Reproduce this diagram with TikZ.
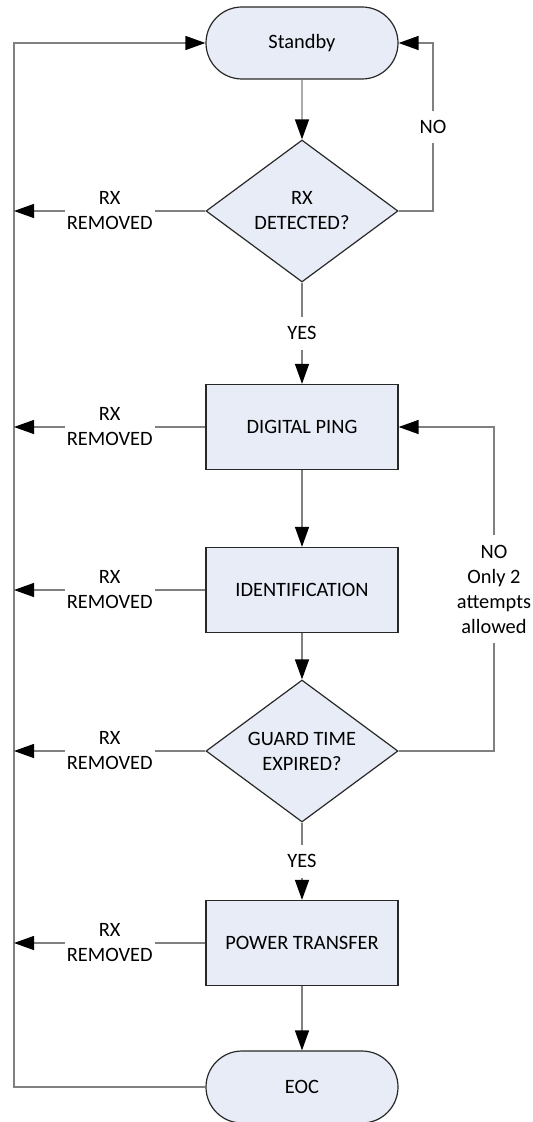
\documentclass[tikz,border=0pt]{standalone}
\usepackage{fontspec}
\setmainfont{Carlito}
\usetikzlibrary{shapes.geometric,shapes.misc,arrows.meta}

\newlength{\du}
\setlength{\du}{0.5pt}

\definecolor{shapefill}{RGB}{231,236,247}
\definecolor{shapeline}{RGB}{40,40,40}
\definecolor{connline}{RGB}{128,128,128}

\tikzset{
  boxtext/.style={font=\fontsize{10.2}{12.5}\selectfont, align=center},
  terminal/.style={boxtext, rounded rectangle, draw=shapeline, fill=shapefill, line width=0.6pt,
    minimum width=192\du, minimum height=72\du, inner sep=0pt},
  process/.style={boxtext, rectangle, draw=shapeline, fill=shapefill, line width=0.6pt,
    minimum width=192\du, minimum height=85\du, inner sep=0pt},
  decision/.style={boxtext, diamond, aspect=1.35, draw=shapeline, fill=shapefill, line width=0.6pt,
    minimum width=192\du, minimum height=142\du, inner sep=1pt},
  conn/.style={draw=connline, line width=0.65pt},
  arr/.style={-{Triangle[length=10pt,width=7pt,color=black]}},
  lbl/.style={boxtext, fill=white, inner xsep=1pt, inner ysep=4.8pt}
}

\begin{document}
\begin{tikzpicture}
\pgftransformyscale{-1.000000}
\useasboundingbox (0\du,0\du) rectangle (533\du,1122\du);
% main column
\node[terminal] (standby) at (302\du,43\du) {Standby};
\node[decision] (detect) at (302\du,211\du) {RX\\DETECTED?};
\node[process] (ping) at (302\du,427\du) {DIGITAL PING};
\node[process] (ident) at (302\du,590\du) {IDENTIFICATION};
\node[decision] (guard) at (302\du,751\du) {GUARD TIME\\EXPIRED?};
\node[process] (power) at (302\du,943\du) {POWER TRANSFER};
\node[terminal] (eoc) at (302\du,1087\du) {EOC};
% side lines
\coordinate (rail) at (14\du,0\du);
\coordinate (noline) at (433\du,0\du);
\coordinate (retry) at (494\du,0\du);

\draw[conn,arr] (standby) -- (detect);
\draw[conn,arr] (detect) -- node[lbl] (yes1) {YES} (ping);
\draw[conn,arr] (ping) -- (ident);
\draw[conn,arr] (ident) -- (guard);
\draw[conn,arr] (guard) -- node[lbl] (yes2) {YES} (power);
\draw[conn,arr] (power) -- (eoc);

\draw[conn,arr] (detect.east) -- (detect.east -| noline)
  -- node[lbl] (no1) {NO} (standby.east -| noline) -- (standby.east);
\draw[conn,arr] (guard.east) -- (guard.east -| retry)
  -- node[lbl] (no2) {NO\\Only 2\\attempts\\allowed} (ping.east -| retry) -- (ping.east);
\draw[conn,arr] (eoc.west) -- (eoc.west -| rail) -- (standby.west -| rail) -- (standby.west);

% rx removed exits
\draw[conn,arr] (detect.west) -- node[lbl] (rmdetect) {RX\\REMOVED} (detect.west -| rail);
\draw[conn,arr] (ping.west) -- node[lbl] (rmping) {RX\\REMOVED} (ping.west -| rail);
\draw[conn,arr] (ident.west) -- node[lbl] (rmident) {RX\\REMOVED} (ident.west -| rail);
\draw[conn,arr] (guard.west) -- node[lbl] (rmguard) {RX\\REMOVED} (guard.west -| rail);
\draw[conn,arr] (power.west) -- node[lbl] (rmpower) {RX\\REMOVED} (power.west -| rail);
\end{tikzpicture}
\end{document}
